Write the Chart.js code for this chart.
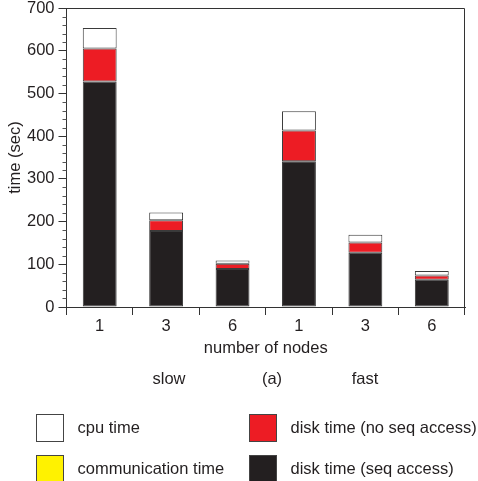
<!DOCTYPE html>
<html>
<head>
<meta charset="utf-8">
<script src="https://cdn.jsdelivr.net/npm/chart.js@4/dist/chart.umd.min.js"></script>
<style>
  html, body { margin: 0; padding: 0; background: #fff; }
  #wrap { position: relative; width: 478px; height: 481px; overflow: hidden; font-family: 'Liberation Sans', Arial, sans-serif; color: #231f20; }
  #chart { position: absolute; left: 0; top: 0; }
  .txt { position: absolute; font-size: 16.5px; line-height: 20px; white-space: nowrap; }
  .group { transform: translateX(-50%); }
  .box { position: absolute; width: 26px; height: 26px; border: 1px solid #444; }
</style>
</head>
<body>
<div id="wrap">
  <canvas id="chart" width="478" height="481"></canvas>
  <div id="groups"></div>
  <div id="legend"></div>
</div>
<script>
const categories = ['1', '3', '6', '1', '3', '6'];
const groupLabels = ['slow', '(a)', 'fast'];

// seconds
const diskSeq = [528, 178, 89, 341, 127, 64];
const diskNoSeq = [77, 25, 12, 72, 24, 10];
const commTime = [0, 0, 0, 0, 0, 0];
const cpuTime = [48, 18, 8, 45, 18, 10];

const yMin = 0;
const yMax = 700;
const yStep = 100;
const yMinorStep = 20;

const ink = '#231f20';
const edge = '#3a3a3a';

const series = [
  { label: 'disk time (seq access)', data: diskSeq, color: '#231f20' },
  { label: 'disk time (no seq access)', data: diskNoSeq, color: '#ed1c24' },
  { label: 'communication time', data: commTime, color: '#fff200' },
  { label: 'cpu time', data: cpuTime, color: '#ffffff' },
];

Chart.defaults.font.family = "'Liberation Sans', Arial, sans-serif";
Chart.defaults.font.size = 16.5;
Chart.defaults.color = ink;

const frameAndMinorTicks = {
  id: 'frameAndMinorTicks',
  afterDraw(chart) {
    const { ctx, chartArea } = chart;
    const y = chart.scales.y;
    ctx.save();
    ctx.strokeStyle = '#333';
    ctx.lineWidth = 1;
    ctx.beginPath();
    ctx.moveTo(chartArea.left, chartArea.top + 0.5);
    ctx.lineTo(chartArea.right - 0.5, chartArea.top + 0.5);
    ctx.lineTo(chartArea.right - 0.5, chartArea.bottom);
    ctx.stroke();

    ctx.strokeStyle = '#555';
    ctx.beginPath();
    for (let v = yMin; v <= yMax; v += yMinorStep) {
      if (v % yStep === 0) continue;
      const py = Math.round(y.getPixelForValue(v)) + 0.5;
      ctx.moveTo(chartArea.left - 4, py);
      ctx.lineTo(chartArea.left, py);
    }
    ctx.stroke();
    ctx.restore();
  },
};

const chart = new Chart(document.getElementById('chart'), {
  type: 'bar',
  data: {
    labels: categories,
    datasets: series.map((s) => ({
      label: s.label,
      data: s.data,
      backgroundColor: s.color,
      borderColor: edge,
      borderWidth: 1,
      borderSkipped: false,
      categoryPercentage: 1,
      barPercentage: 0.51,
    })),
  },
  options: {
    responsive: false,
    animation: false,
    layout: { padding: { top: 8, right: 13, left: 0, bottom: 0 } },
    plugins: { legend: { display: false }, tooltip: { enabled: false } },
    scales: {
      x: {
        stacked: true,
        grid: { offset: true, drawOnChartArea: false, drawTicks: true, tickLength: 8, color: '#333' },
        border: { color: '#333' },
        ticks: { padding: 2, color: ink },
        title: { display: true, text: 'number of nodes', color: ink, padding: { top: 0, bottom: 123 } },
        afterFit(scale) {
          scale.height = 174;
          scale.paddingLeft = 0;
          scale.paddingRight = 0;
        },
      },
      y: {
        stacked: true,
        min: yMin,
        max: yMax,
        ticks: { stepSize: yStep, padding: 4, color: ink },
        grid: { drawOnChartArea: false, drawTicks: true, tickLength: 8, color: '#333' },
        border: { color: '#333' },
        title: { display: true, text: 'time (sec)', color: ink, padding: { top: 6, bottom: 0 } },
        afterFit(scale) {
          scale.width = 66.5;
          scale.paddingTop = 0;
          scale.paddingBottom = 0;
        },
      },
    },
  },
  plugins: [frameAndMinorTicks],
});

// group labels under the axis
const groupX = [169, 272, 365];
document.getElementById('groups').innerHTML = groupLabels
  .map((label, i) => `<div class="txt group" style="left:${groupX[i]}px;top:367.5px">${label}</div>`)
  .join('');

// legend, 2 x 2
const legendOrder = [3, 1, 2, 0];
const legendPos = [
  { bx: 35.5, by: 414, tx: 77.5, ty: 417 },
  { bx: 248.5, by: 414, tx: 290.5, ty: 417 },
  { bx: 35.5, by: 455, tx: 77.5, ty: 458 },
  { bx: 248.5, by: 455, tx: 290.5, ty: 458 },
];
document.getElementById('legend').innerHTML = legendOrder
  .map((idx, i) => {
    const s = series[idx];
    const p = legendPos[i];
    return `<div class="box" style="left:${p.bx}px;top:${p.by}px;background:${s.color}"></div>
      <div class="txt" style="left:${p.tx}px;top:${p.ty}px">${s.label}</div>`;
  })
  .join('');
</script>
</body>
</html>
